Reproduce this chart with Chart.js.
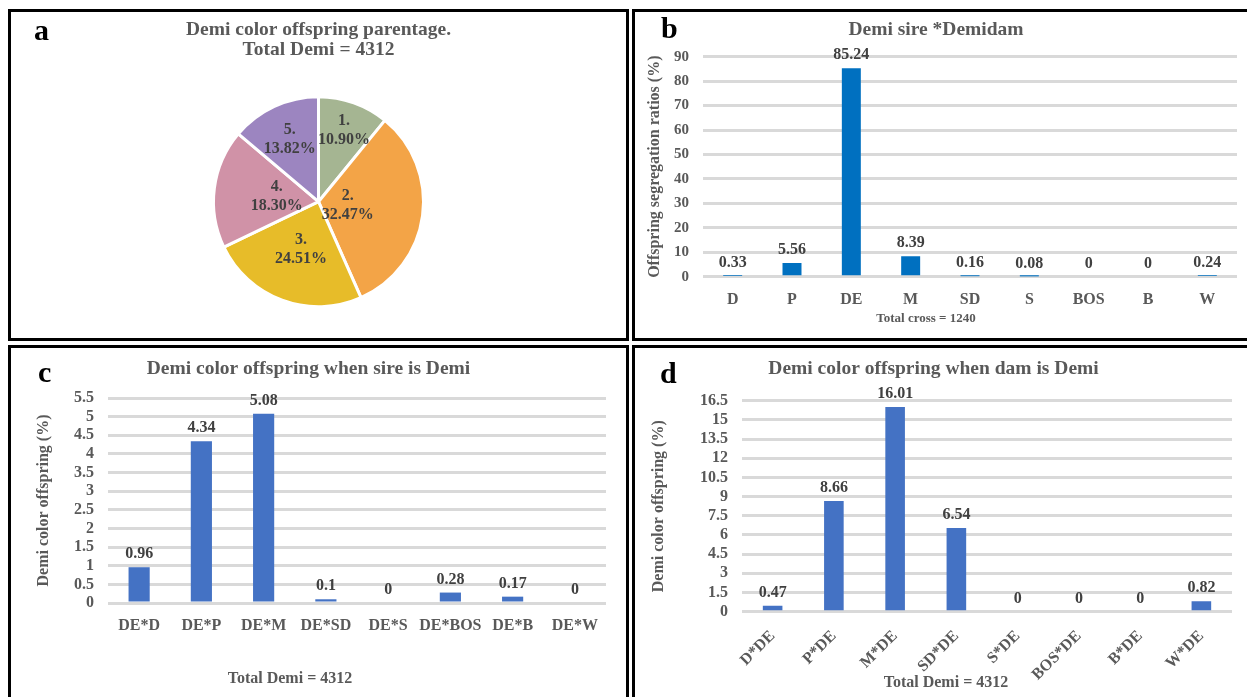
<!DOCTYPE html>
<html>
<head>
<meta charset="utf-8">
<script src="https://cdn.jsdelivr.net/npm/chart.js@4.4.0/dist/chart.umd.min.js"></script>
<style>
  body { margin: 0; background: #fff; width: 1247px; height: 697px; overflow: hidden; position: relative; }
  .panel { position: absolute; border: 3px solid #000; box-sizing: border-box; }
  .panel canvas { position: absolute; left: 0; top: 0; }
  .tag { position: absolute; font: bold 30px/30px "Liberation Serif", serif; color: #000; }
</style>
</head>
<body>
<div class="panel" style="left:8px;top:9px;width:621px;height:332px"><canvas id="pieChart" width="615" height="326"></canvas></div>
<div class="panel" style="left:632px;top:9px;width:620px;height:332px"><canvas id="sireDamChart" width="612" height="326"></canvas></div>
<div class="panel" style="left:8px;top:345px;width:621px;height:360px"><canvas id="sireChart" width="615" height="349"></canvas></div>
<div class="panel" style="left:632px;top:345px;width:620px;height:360px"><canvas id="damChart" width="612" height="349"></canvas></div>
<div class="tag" style="left:34px;top:15px">a</div>
<div class="tag" style="left:661px;top:13px">b</div>
<div class="tag" style="left:38px;top:357px">c</div>
<div class="tag" style="left:660px;top:358px">d</div>
<script>
// panel a
const pieLabels = ['1.', '2.', '3.', '4.', '5.'];
const pieValues = [10.90, 32.47, 24.51, 18.30, 13.82];
const pieColors = ['#A5B592', '#F3A447', '#E7BC29', '#D092A7', '#9C85C0'];

// panel b
const sireDamCats = ['D', 'P', 'DE', 'M', 'SD', 'S', 'BOS', 'B', 'W'];
const sireDamValues = [0.33, 5.56, 85.24, 8.39, 0.16, 0.08, 0, 0, 0.24];
const sireDamTicks = [0, 10, 20, 30, 40, 50, 60, 70, 80, 90];

// panel c
const sireCats = ['DE*D', 'DE*P', 'DE*M', 'DE*SD', 'DE*S', 'DE*BOS', 'DE*B', 'DE*W'];
const sireValues = [0.96, 4.34, 5.08, 0.1, 0, 0.28, 0.17, 0];
const sireTicks = [0, 0.5, 1, 1.5, 2, 2.5, 3, 3.5, 4, 4.5, 5, 5.5];

// panel d
const damCats = ['D*DE', 'P*DE', 'M*DE', 'SD*DE', 'S*DE', 'BOS*DE', 'B*DE', 'W*DE'];
const damValues = [0.47, 8.66, 16.01, 6.54, 0, 0, 0, 0.82];
const damTicks = [0, 1.5, 3, 4.5, 6, 7.5, 9, 10.5, 12, 13.5, 15, 16.5];

const serif = '"Liberation Serif", "Times New Roman", serif';
const grey = '#595959';

// value above each bar
const valueLabels = {
    id: 'valueLabels',
    afterDatasetsDraw(chart) {
        const ctx = chart.ctx;
        const ds = chart.data.datasets[0];
        chart.getDatasetMeta(0).data.forEach((bar, i) => {
            ctx.save();
            ctx.font = 'bold 16px ' + serif;
            ctx.fillStyle = '#404040';
            ctx.textAlign = 'center';
            ctx.textBaseline = 'middle';
            ctx.fillText(String(ds.data[i]), bar.x, bar.y - 13);
            ctx.restore();
        });
    }
};

// "Total ..." note under the axis
const caption = {
    id: 'caption',
    afterDraw(chart, args, opts) {
        if (!opts.text) return;
        const ctx = chart.ctx;
        ctx.save();
        ctx.font = 'bold ' + opts.size + 'px ' + serif;
        ctx.fillStyle = grey;
        ctx.textAlign = 'center';
        ctx.textBaseline = 'middle';
        ctx.fillText(opts.text, opts.x, opts.y);
        ctx.restore();
    }
};

// labels inside the pie slices
const pieText = {
    id: 'pieText',
    afterDatasetsDraw(chart, args, opts) {
        const ctx = chart.ctx;
        chart.getDatasetMeta(0).data.forEach((arc, i) => {
            const mid = (arc.startAngle + arc.endAngle) / 2;
            const r = arc.outerRadius * opts.radius[i];
            const x = arc.x + Math.cos(mid) * r;
            const y = arc.y + Math.sin(mid) * r;
            ctx.save();
            ctx.font = 'bold 16px ' + serif;
            ctx.fillStyle = '#404040';
            ctx.textAlign = 'center';
            ctx.textBaseline = 'middle';
            ctx.fillText(pieLabels[i], x, y - 9.5);
            ctx.fillText(pieValues[i].toFixed(2) + '%', x, y + 9.5);
            ctx.restore();
        });
    }
};

new Chart(document.getElementById('pieChart'), {
    type: 'pie',
    data: {
        labels: pieLabels,
        datasets: [{
            data: pieValues,
            backgroundColor: pieColors,
            borderColor: '#ffffff',
            borderWidth: 3
        }]
    },
    options: {
        responsive: false,
        animation: false,
        layout: { padding: { left: 0, right: 0, top: 0, bottom: 29.8 } },
        plugins: {
            legend: { display: false },
            tooltip: { enabled: false },
            title: {
                display: true,
                text: ['Demi color offspring parentage.', 'Total Demi = 4312'],
                color: grey,
                font: { family: serif, size: 19.5, weight: 'bold', lineHeight: 20 / 19.5 },
                padding: { top: 8, bottom: 35.2 }
            },
            pieText: { radius: [0.72, 0.28, 0.48, 0.40, 0.65] }
        }
    },
    plugins: [pieText]
});

function barChart(id, cats, values, yTicks, color, cfg) {
    return new Chart(document.getElementById(id), {
        type: 'bar',
        data: {
            labels: cats,
            datasets: [{
                data: values,
                backgroundColor: color,
                barPercentage: cfg.bar,
                categoryPercentage: 1
            }]
        },
        options: {
            responsive: false,
            animation: false,
            layout: { padding: { left: 0, right: cfg.padRight, top: 0, bottom: 0 } },
            plugins: {
                legend: { display: false },
                tooltip: { enabled: false },
                title: {
                    display: true,
                    text: cfg.title,
                    color: grey,
                    font: { family: serif, size: 19.5, weight: 'bold' },
                    padding: { top: cfg.titleTop, bottom: cfg.titleBottom }
                },
                caption: cfg.caption
            },
            scales: {
                x: {
                    grid: { display: false },
                    border: { display: false },
                    ticks: {
                        color: grey,
                        font: { family: serif, size: 16, weight: 'bold' },
                        padding: cfg.xPad,
                        minRotation: cfg.rot,
                        maxRotation: cfg.rot,
                        autoSkip: false
                    },
                    afterFit: s => { s.height = cfg.xHeight; }
                },
                y: {
                    min: 0,
                    max: yTicks[yTicks.length - 1],
                    afterBuildTicks: s => { s.ticks = yTicks.map(v => ({ value: v })); },
                    grid: { color: '#D9D9D9', lineWidth: 3, drawTicks: false },
                    border: { display: false },
                    ticks: {
                        color: grey,
                        font: { family: serif, size: cfg.yFont, weight: 'bold' },
                        padding: 14,
                        autoSkip: false,
                        callback: v => String(v)
                    },
                    title: {
                        display: true,
                        text: cfg.yTitle,
                        color: grey,
                        font: { family: serif, size: 16, weight: 'bold' },
                        padding: { top: cfg.yTitlePad, bottom: 0 }
                    },
                    afterFit: s => { s.width = cfg.yWidth; }
                }
            }
        },
        plugins: [valueLabels, caption]
    });
}

barChart('sireDamChart', sireDamCats, sireDamValues, sireDamTicks, '#0070C0', {
    title: 'Demi sire *Demidam',
    yTitle: 'Offspring segregation ratios (%)',
    bar: 0.32, padRight: 10, titleTop: 6, titleBottom: 15.3,
    xPad: 6, rot: 0, xHeight: 61.3, yWidth: 68, yFont: 15, yTitlePad: 10,
    caption: { text: 'Total cross = 1240', size: 13, x: 291, y: 307 }
});

barChart('sireChart', sireCats, sireValues, sireTicks, '#4472C4', {
    title: 'Demi color offspring when sire is Demi',
    yTitle: 'Demi color offspring (%)',
    bar: 0.34, padRight: 20, titleTop: 9.3, titleBottom: 17.3,
    xPad: 5, rot: 0, xHeight: 94, yWidth: 97, yFont: 16, yTitlePad: 23,
    caption: { text: 'Total Demi = 4312', size: 16, x: 279, y: 331 }
});

barChart('damChart', damCats, damValues, damTicks, '#4472C4', {
    title: 'Demi color offspring when dam is Demi',
    yTitle: 'Demi color offspring (%)',
    bar: 0.32, padRight: 15, titleTop: 9.3, titleBottom: 20,
    xPad: 7, rot: 45, xHeight: 85.3, yWidth: 107, yFont: 16, yTitlePad: 14,
    caption: { text: 'Total Demi = 4312', size: 16, x: 311, y: 335 }
});
</script>
</body>
</html>
